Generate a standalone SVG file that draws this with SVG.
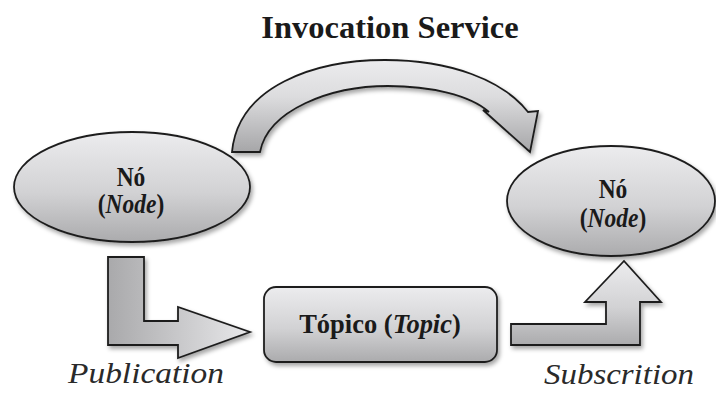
<svg xmlns="http://www.w3.org/2000/svg" width="716" height="393" viewBox="0 0 716 393">
  <defs>
    <linearGradient id="gVert" x1="0" y1="0" x2="0" y2="1">
      <stop offset="0" stop-color="#ececee"/>
      <stop offset="0.55" stop-color="#d2d2d4"/>
      <stop offset="1" stop-color="#ababad"/>
    </linearGradient>
    <linearGradient id="gArc" x1="0" y1="0" x2="0" y2="1">
      <stop offset="0" stop-color="#ececee"/>
      <stop offset="0.4" stop-color="#dcdcde"/>
      <stop offset="1" stop-color="#a6a6a8"/>
    </linearGradient>
    <linearGradient id="gHorz" x1="0" y1="0" x2="1" y2="0">
      <stop offset="0" stop-color="#a9a9ab"/>
      <stop offset="1" stop-color="#e8e8ea"/>
    </linearGradient>
    <filter id="shadow" x="-10%" y="-10%" width="125%" height="130%">
      <feDropShadow dx="2" dy="3" stdDeviation="2.2" flood-color="#000" flood-opacity="0.35"/>
    </filter>
  </defs>
  <style>
    .shape { stroke: #1e1e1e; stroke-width: 1.8; stroke-linejoin: miter; filter: url(#shadow); }
    .node-label { font-weight: bold; fill: #1a1a1a; text-anchor: middle; }
    .caption { font-style: italic; fill: #2a2a2a; }
  </style>

  <rect width="716" height="393" fill="#ffffff"/>

  <g font-family="Liberation Serif, Times New Roman, serif">
    <!-- title -->
    <text class="node-label" x="390" y="38" font-size="32.5">Invocation Service</text>

    <!-- connectors -->
    <g id="connectors">
      <!-- curved invocation arrow between the two nodes -->
      <path class="shape" fill="url(#gArc)" d="M232,152 C238,86 315,60 385,60 C450,60 503,80 528,112 L538,111 L530,152 L483,110 L489,112 C470,95 430,86 388,86 C330,86 268,110 260,152 Z"/>
      <!-- publication arrow: node to topic -->
      <path class="shape" fill="url(#gHorz)" d="M108,257 L144,257 L144,321 L178,321 L178,307 L250,332 L178,358 L178,345 L108,345 Z"/>
      <!-- subscription arrow: topic to node -->
      <path class="shape" fill="url(#gVert)" d="M511,324 L606,324 L606,302 L585,302 L624,261 L661,302 L640,302 L640,345 L511,345 Z"/>
    </g>

    <!-- publisher node -->
    <g id="node-publisher">
      <ellipse class="shape" fill="url(#gVert)" cx="132" cy="187" rx="118" ry="55"/>
      <text class="node-label" transform="translate(131,186) scale(1,1.13)" font-size="23.5">Nó</text>
      <text class="node-label" transform="translate(131,213) scale(1,1.13)" font-size="23.5">(<tspan font-style="italic">Node</tspan>)</text>
    </g>

    <!-- subscriber node -->
    <g id="node-subscriber">
      <ellipse class="shape" fill="url(#gVert)" cx="611" cy="201" rx="104" ry="55"/>
      <text class="node-label" transform="translate(613,198) scale(1,1.13)" font-size="23.5">Nó</text>
      <text class="node-label" transform="translate(613,227) scale(1,1.13)" font-size="23.5">(<tspan font-style="italic">Node</tspan>)</text>
    </g>

    <!-- topic -->
    <g id="node-topic">
      <rect class="shape" fill="url(#gVert)" x="264" y="287" width="233" height="75" rx="12" ry="12"/>
      <text class="node-label" transform="translate(380,333) scale(1,1.06)" font-size="26.5">Tópico (<tspan font-style="italic">Topic</tspan>)</text>
    </g>

    <!-- captions -->
    <text class="caption" x="68" y="383" font-size="29" textLength="156" lengthAdjust="spacingAndGlyphs">Publication</text>
    <text class="caption" x="544" y="384" font-size="29" textLength="150" lengthAdjust="spacingAndGlyphs">Subscrition</text>
  </g>
</svg>
